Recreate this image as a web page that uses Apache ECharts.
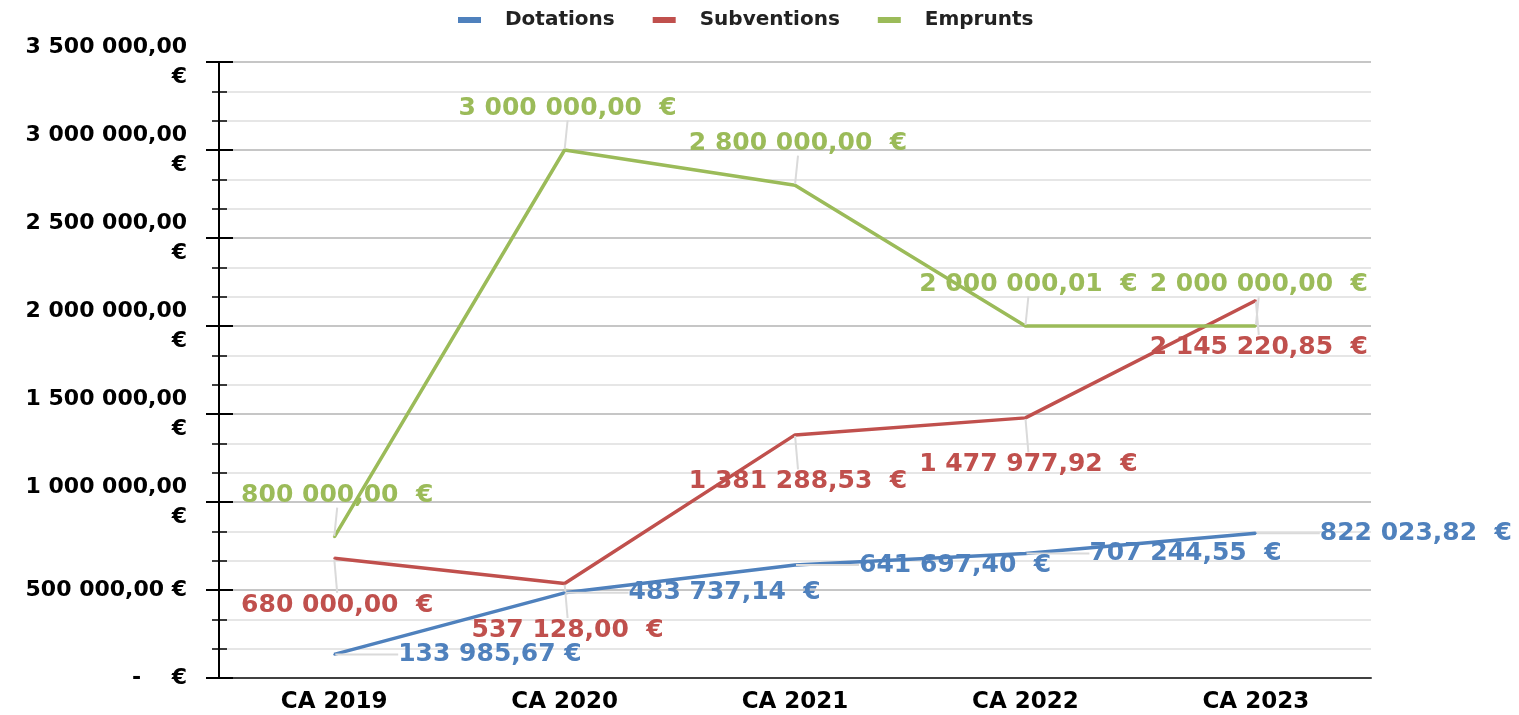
<!DOCTYPE html>
<html>
<head>
<meta charset="utf-8">
<script src="https://cdn.jsdelivr.net/npm/echarts@6/dist/echarts.min.js"></script>
<style>
  html, body { margin: 0; padding: 0; background: #fff; }
  #chart { width: 1519px; height: 715px; }
</style>
</head>
<body>
<div id="chart"></div>
<script>
// Chart data
const categories = ['CA 2019', 'CA 2020', 'CA 2021', 'CA 2022', 'CA 2023'];
const dotations = [133985.67, 483737.14, 641697.40, 707244.55, 822023.82];
const subventions = [680000.00, 537128.00, 1381288.53, 1477977.92, 2145220.85];
const emprunts = [800000.00, 3000000.00, 2800000.00, 2000000.01, 2000000.00];
const yMin = 0, yMax = 3500000, yStep = 500000;

const colors = { dot: '#4f81bd', sub: '#c0504d', emp: '#9bbb59' };
const FONT = 'DejaVu Sans';

// 1234567.8 -> "1 234 567,80"
function frNumber(v) {
    const parts = v.toFixed(2).split('.');
    return parts[0].replace(/\B(?=(\d{3})+(?!\d))/g, ' ') + ',' + parts[1];
}

function yLabel(v) {
    if (v === 0) return '-    €';
    if (v < 1000000) return frNumber(v) + ' €';
    return frNumber(v) + '\n€';
}

function dataLabel(p) {
    const sep = (p.seriesName === 'Dotations' && p.dataIndex === 0) ? ' ' : '  ';
    return frNumber(p.value) + sep + '€';
}

// label placement relative to the point (echarts draws the leader line)
function placeAbove(p) {
    const cx = p.rect.x + p.rect.width / 2, cy = p.rect.y + p.rect.height / 2;
    return { x: cx + 3, y: cy - 42, align: 'center', verticalAlign: 'middle' };
}
function placeBelow(p) {
    const cx = p.rect.x + p.rect.width / 2, cy = p.rect.y + p.rect.height / 2;
    return { x: cx + 3, y: cy + 47, align: 'center', verticalAlign: 'middle' };
}
function placeRight(p) {
    const cx = p.rect.x + p.rect.width / 2, cy = p.rect.y + p.rect.height / 2;
    return { x: cx + 64, y: cy, align: 'left', verticalAlign: 'middle' };
}

function makeSeries(name, data, color, layout) {
    return {
        name: name,
        type: 'line',
        data: data,
        symbol: 'circle',
        symbolSize: 2,
        showSymbol: true,
        lineStyle: { color: color, width: 3.5 },
        itemStyle: { color: color },
        label: {
            show: true,
            formatter: dataLabel,
            color: color,
            fontFamily: FONT,
            fontWeight: 'bold',
            fontSize: 25
        },
        labelLine: { show: true, lineStyle: { color: '#dadada', width: 2 } },
        labelLayout: layout
    };
}

const chart = echarts.init(document.getElementById('chart'));

const option = {
    animation: false,
    color: [colors.dot, colors.sub, colors.emp],
    legend: {
        top: 5,
        left: 453,
        icon: 'rect',
        itemWidth: 23,
        itemHeight: 6,
        itemGap: 38,
        textStyle: { fontFamily: FONT, fontWeight: 'bold', fontSize: 20, color: '#222', padding: [0, 0, 0, 19] },
        data: ['Dotations', 'Subventions', 'Emprunts']
    },
    grid: { left: 219, right: 148, top: 62, bottom: 37, containLabel: false },
    xAxis: {
        type: 'category',
        data: categories,
        boundaryGap: true,
        axisLine: { lineStyle: { color: '#404040', width: 2 } },
        axisTick: { show: false },
        axisLabel: { fontFamily: FONT, fontWeight: 'bold', fontSize: 23, color: '#000', margin: 13 }
    },
    yAxis: [
        {
            type: 'value',
            min: yMin, max: yMax, interval: yStep,
            position: 'left',
            axisLine: { show: true, lineStyle: { color: '#000', width: 2 } },
            axisTick: { show: true, length: 13, lineStyle: { color: '#000', width: 2 } },
            minorTick: { show: true, splitNumber: 3, length: 7, lineStyle: { color: '#000', width: 1.5 } },
            splitLine: { show: true, lineStyle: { color: '#c6c6c6', width: 2 } },
            minorSplitLine: { show: true, lineStyle: { color: '#e6e6e6', width: 2 } },
            axisLabel: {
                formatter: yLabel,
                fontFamily: FONT, fontWeight: 'bold', fontSize: 22, color: '#000',
                lineHeight: 30, margin: 32, align: 'right'
            }
        },
        {
            // inner half of the ticks so they cross the axis line
            type: 'value',
            min: yMin, max: yMax, interval: yStep,
            position: 'left',
            axisLine: { show: false },
            axisTick: { show: true, inside: true, length: 14, lineStyle: { color: '#000', width: 2 } },
            minorTick: { show: true, splitNumber: 3, length: 8, lineStyle: { color: '#000', width: 1.5 } },
            splitLine: { show: false },
            axisLabel: { show: false }
        }
    ],
    series: [
        makeSeries('Dotations', dotations, colors.dot, placeRight),
        makeSeries('Subventions', subventions, colors.sub, placeBelow),
        makeSeries('Emprunts', emprunts, colors.emp, placeAbove)
    ]
};

chart.setOption(option);
</script>
</body>
</html>
